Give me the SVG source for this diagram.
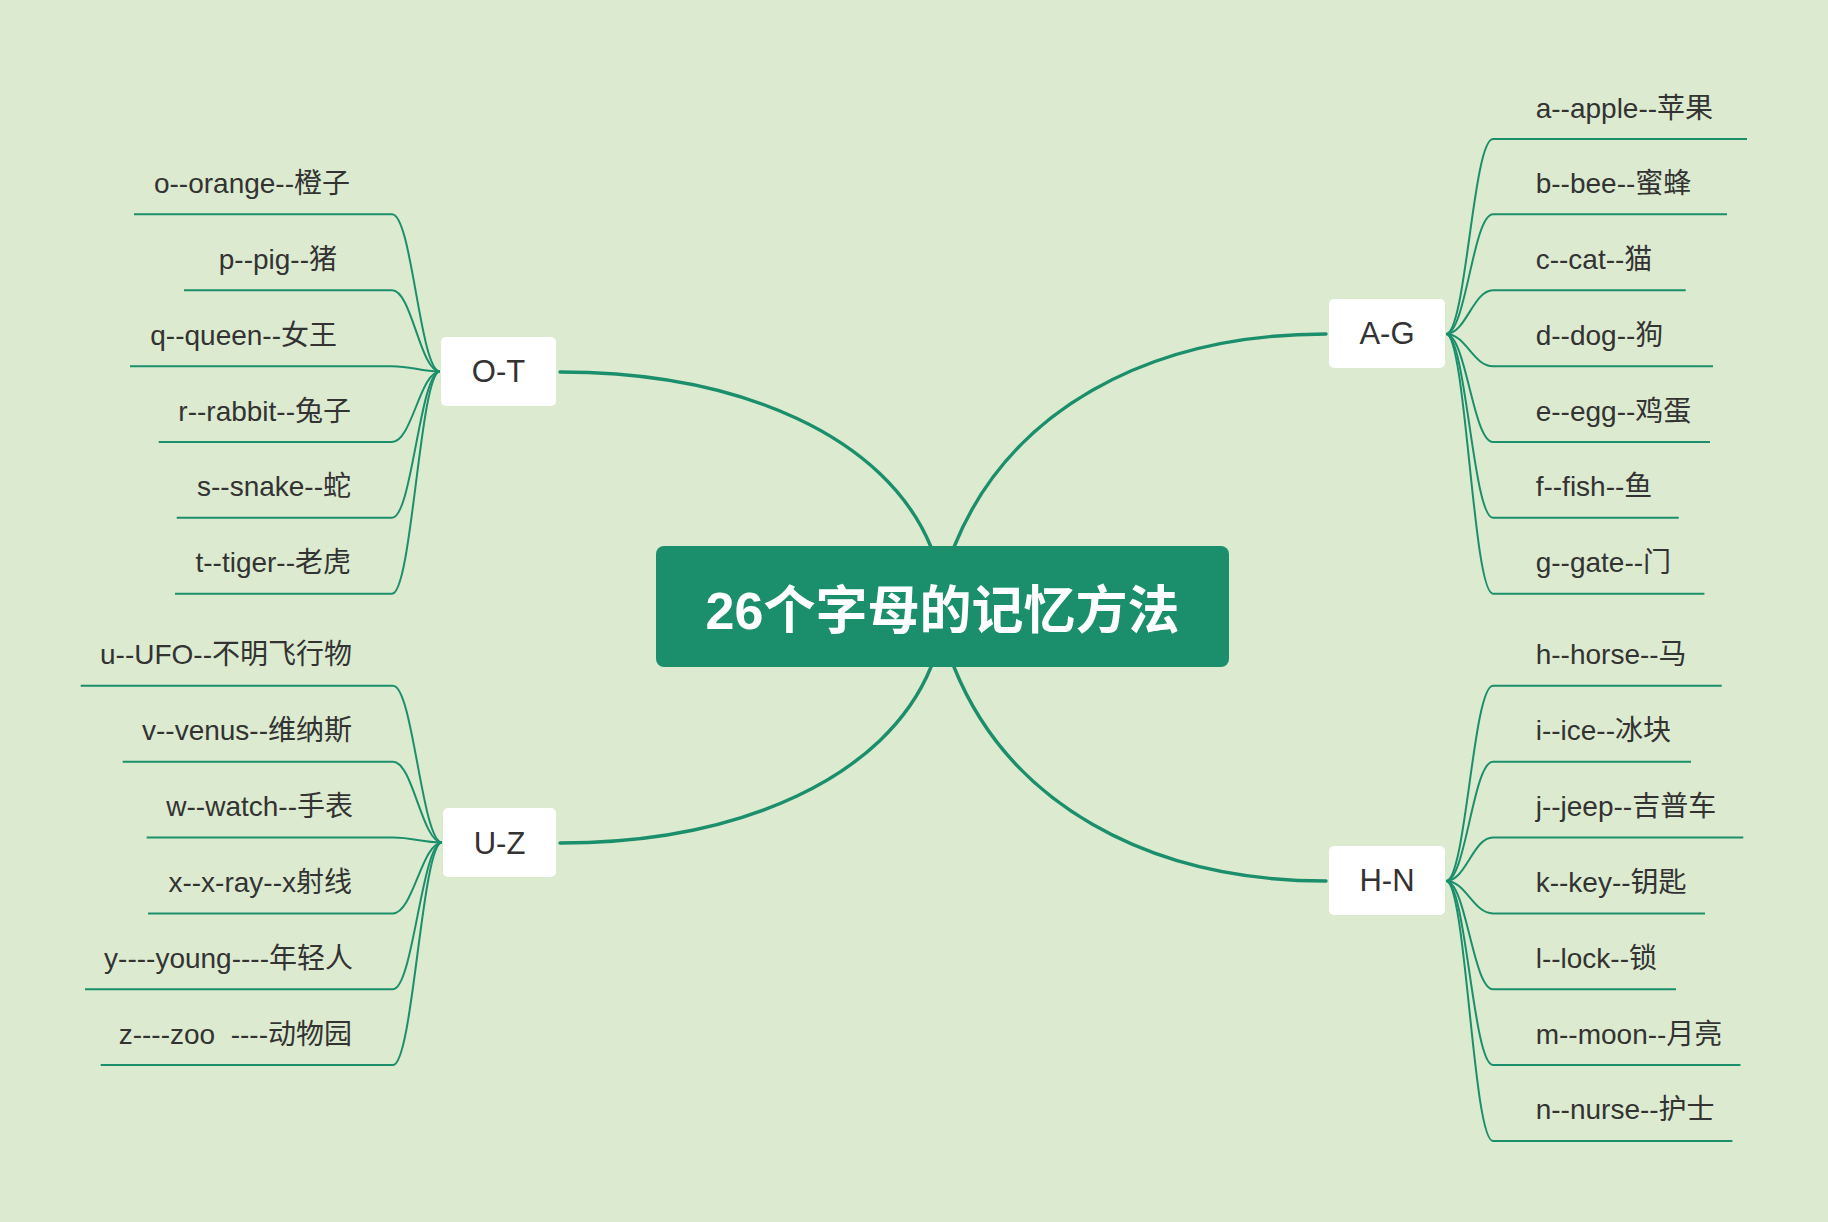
<svg xmlns="http://www.w3.org/2000/svg" width="1828" height="1222" viewBox="0 0 1828 1222">
<style>
.bg{fill:#dcebcf}
.main{fill:none;stroke:#1b8f6c;stroke-width:3.4;stroke-linecap:round}
.leaf{fill:none;stroke:#1b8f6c;stroke-width:2}
.center{fill:#1b8f6c}
.title{font-family:"Liberation Sans","Noto Sans CJK SC",sans-serif;font-weight:bold;font-size:52px;fill:#ffffff}
.branch{fill:#ffffff}
.btxt{font-family:"Liberation Sans","Noto Sans CJK SC",sans-serif;font-size:31px;fill:#333333;text-anchor:middle}
.lt{font-family:"Liberation Sans","Noto Sans CJK SC",sans-serif;font-size:28px;fill:#333333;white-space:pre}
.l{text-anchor:end}
</style>
<rect class="bg" x="0" y="0" width="1828" height="1222"/>
<g id="connectors">
<path class="main" d="M560 372 C741 372 886 437 931 547"/>
<path class="main" d="M560 843 C741 843 886 777 931 667"/>
<path class="main" d="M1326 334 C1145 334 1008 413 954 547"/>
<path class="main" d="M1326 881 C1145 881 1008 801 954 667"/>
<path class="leaf" d="M134 214.3 H392 C412 214.3 420 371.5 440 371.5"/>
<path class="leaf" d="M184 290.3 H392 C412 290.3 420 371.5 440 371.5"/>
<path class="leaf" d="M130 366.2 H392 C412 366.2 420 371.5 440 371.5"/>
<path class="leaf" d="M158.7 442 H392 C412 442 420 371.5 440 371.5"/>
<path class="leaf" d="M176.7 517.8 H392 C412 517.8 420 371.5 440 371.5"/>
<path class="leaf" d="M175 593.7 H392 C412 593.7 420 371.5 440 371.5"/>
<path class="leaf" d="M80.7 685.7 H393 C413 685.7 422 842.5 442 842.5"/>
<path class="leaf" d="M122.7 761.7 H393 C413 761.7 422 842.5 442 842.5"/>
<path class="leaf" d="M146.7 837.5 H393 C413 837.5 422 842.5 442 842.5"/>
<path class="leaf" d="M148 913.4 H393 C413 913.4 422 842.5 442 842.5"/>
<path class="leaf" d="M85 989.2 H393 C413 989.2 422 842.5 442 842.5"/>
<path class="leaf" d="M100.7 1065 H393 C413 1065 422 842.5 442 842.5"/>
<path class="leaf" d="M1446 334 C1466 334 1473 139 1493 139 H1747"/>
<path class="leaf" d="M1446 334 C1466 334 1473 214.3 1493 214.3 H1727"/>
<path class="leaf" d="M1446 334 C1466 334 1473 290.3 1493 290.3 H1685.7"/>
<path class="leaf" d="M1446 334 C1466 334 1473 366.2 1493 366.2 H1713"/>
<path class="leaf" d="M1446 334 C1466 334 1473 442 1493 442 H1710"/>
<path class="leaf" d="M1446 334 C1466 334 1473 517.8 1493 517.8 H1678.7"/>
<path class="leaf" d="M1446 334 C1466 334 1473 593.7 1493 593.7 H1704.4"/>
<path class="leaf" d="M1446 881 C1466 881 1473 685.7 1493 685.7 H1721.7"/>
<path class="leaf" d="M1446 881 C1466 881 1473 761.7 1493 761.7 H1691"/>
<path class="leaf" d="M1446 881 C1466 881 1473 837.5 1493 837.5 H1743.3"/>
<path class="leaf" d="M1446 881 C1466 881 1473 913.4 1493 913.4 H1705"/>
<path class="leaf" d="M1446 881 C1466 881 1473 989.2 1493 989.2 H1676"/>
<path class="leaf" d="M1446 881 C1466 881 1473 1065 1493 1065 H1740.5"/>
<path class="leaf" d="M1446 881 C1466 881 1473 1140.9 1493 1140.9 H1732.4"/>
</g>
<g id="center">
<rect class="center" x="656" y="546" width="573" height="121" rx="8"/>
<text class="title" x="942.5" y="629" text-anchor="middle">26个字母的记忆方法</text>
</g>
<g id="node-OT">
<rect class="branch" x="441" y="337" width="115" height="69" rx="5"/>
<text class="btxt" x="498.5" y="382">O-T</text>
</g>
<g id="node-UZ">
<rect class="branch" x="443" y="808" width="113" height="69" rx="5"/>
<text class="btxt" x="499.5" y="854">U-Z</text>
</g>
<g id="node-AG">
<rect class="branch" x="1329" y="299" width="116" height="69" rx="5"/>
<text class="btxt" x="1387" y="344">A-G</text>
</g>
<g id="node-HN">
<rect class="branch" x="1329" y="846" width="116" height="69" rx="5"/>
<text class="btxt" x="1387" y="891">H-N</text>
</g>
<g id="leaf-o"><text class="lt l" x="350" y="193">o--orange--橙子</text></g>
<g id="leaf-p"><text class="lt l" x="337" y="269">p--pig--猪</text></g>
<g id="leaf-q"><text class="lt l" x="337" y="345">q--queen--女王</text></g>
<g id="leaf-r"><text class="lt l" x="351" y="420.5">r--rabbit--兔子</text></g>
<g id="leaf-s"><text class="lt l" x="351" y="496.3">s--snake--蛇</text></g>
<g id="leaf-t"><text class="lt l" x="351" y="572.2">t--tiger--老虎</text></g>
<g id="leaf-u"><text class="lt l" x="352" y="664.2">u--UFO--不明飞行物</text></g>
<g id="leaf-v"><text class="lt l" x="352" y="740.2">v--venus--维纳斯</text></g>
<g id="leaf-w"><text class="lt l" x="353" y="816">w--watch--手表</text></g>
<g id="leaf-x"><text class="lt l" x="352" y="891.9">x--x-ray--x射线</text></g>
<g id="leaf-y"><text class="lt l" x="353" y="967.7">y----young----年轻人</text></g>
<g id="leaf-z"><text class="lt l" x="352" y="1043.5">z----zoo  ----动物园</text></g>
<g id="leaf-a"><text class="lt" x="1535.7" y="117.5">a--apple--苹果</text></g>
<g id="leaf-b"><text class="lt" x="1535.7" y="192.8">b--bee--蜜蜂</text></g>
<g id="leaf-c"><text class="lt" x="1535.7" y="268.8">c--cat--猫</text></g>
<g id="leaf-d"><text class="lt" x="1535.7" y="344.7">d--dog--狗</text></g>
<g id="leaf-e"><text class="lt" x="1535.7" y="420.5">e--egg--鸡蛋</text></g>
<g id="leaf-f"><text class="lt" x="1535.7" y="496.3">f--fish--鱼</text></g>
<g id="leaf-g"><text class="lt" x="1535.7" y="572.2">g--gate--门</text></g>
<g id="leaf-h"><text class="lt" x="1535.7" y="664.2">h--horse--马</text></g>
<g id="leaf-i"><text class="lt" x="1535.7" y="740.2">i--ice--冰块</text></g>
<g id="leaf-j"><text class="lt" x="1535.7" y="816">j--jeep--吉普车</text></g>
<g id="leaf-k"><text class="lt" x="1535.7" y="891.9">k--key--钥匙</text></g>
<g id="leaf-l"><text class="lt" x="1535.7" y="967.7">l--lock--锁</text></g>
<g id="leaf-m"><text class="lt" x="1535.7" y="1043.5">m--moon--月亮</text></g>
<g id="leaf-n"><text class="lt" x="1535.7" y="1119.4">n--nurse--护士</text></g>
</svg>
